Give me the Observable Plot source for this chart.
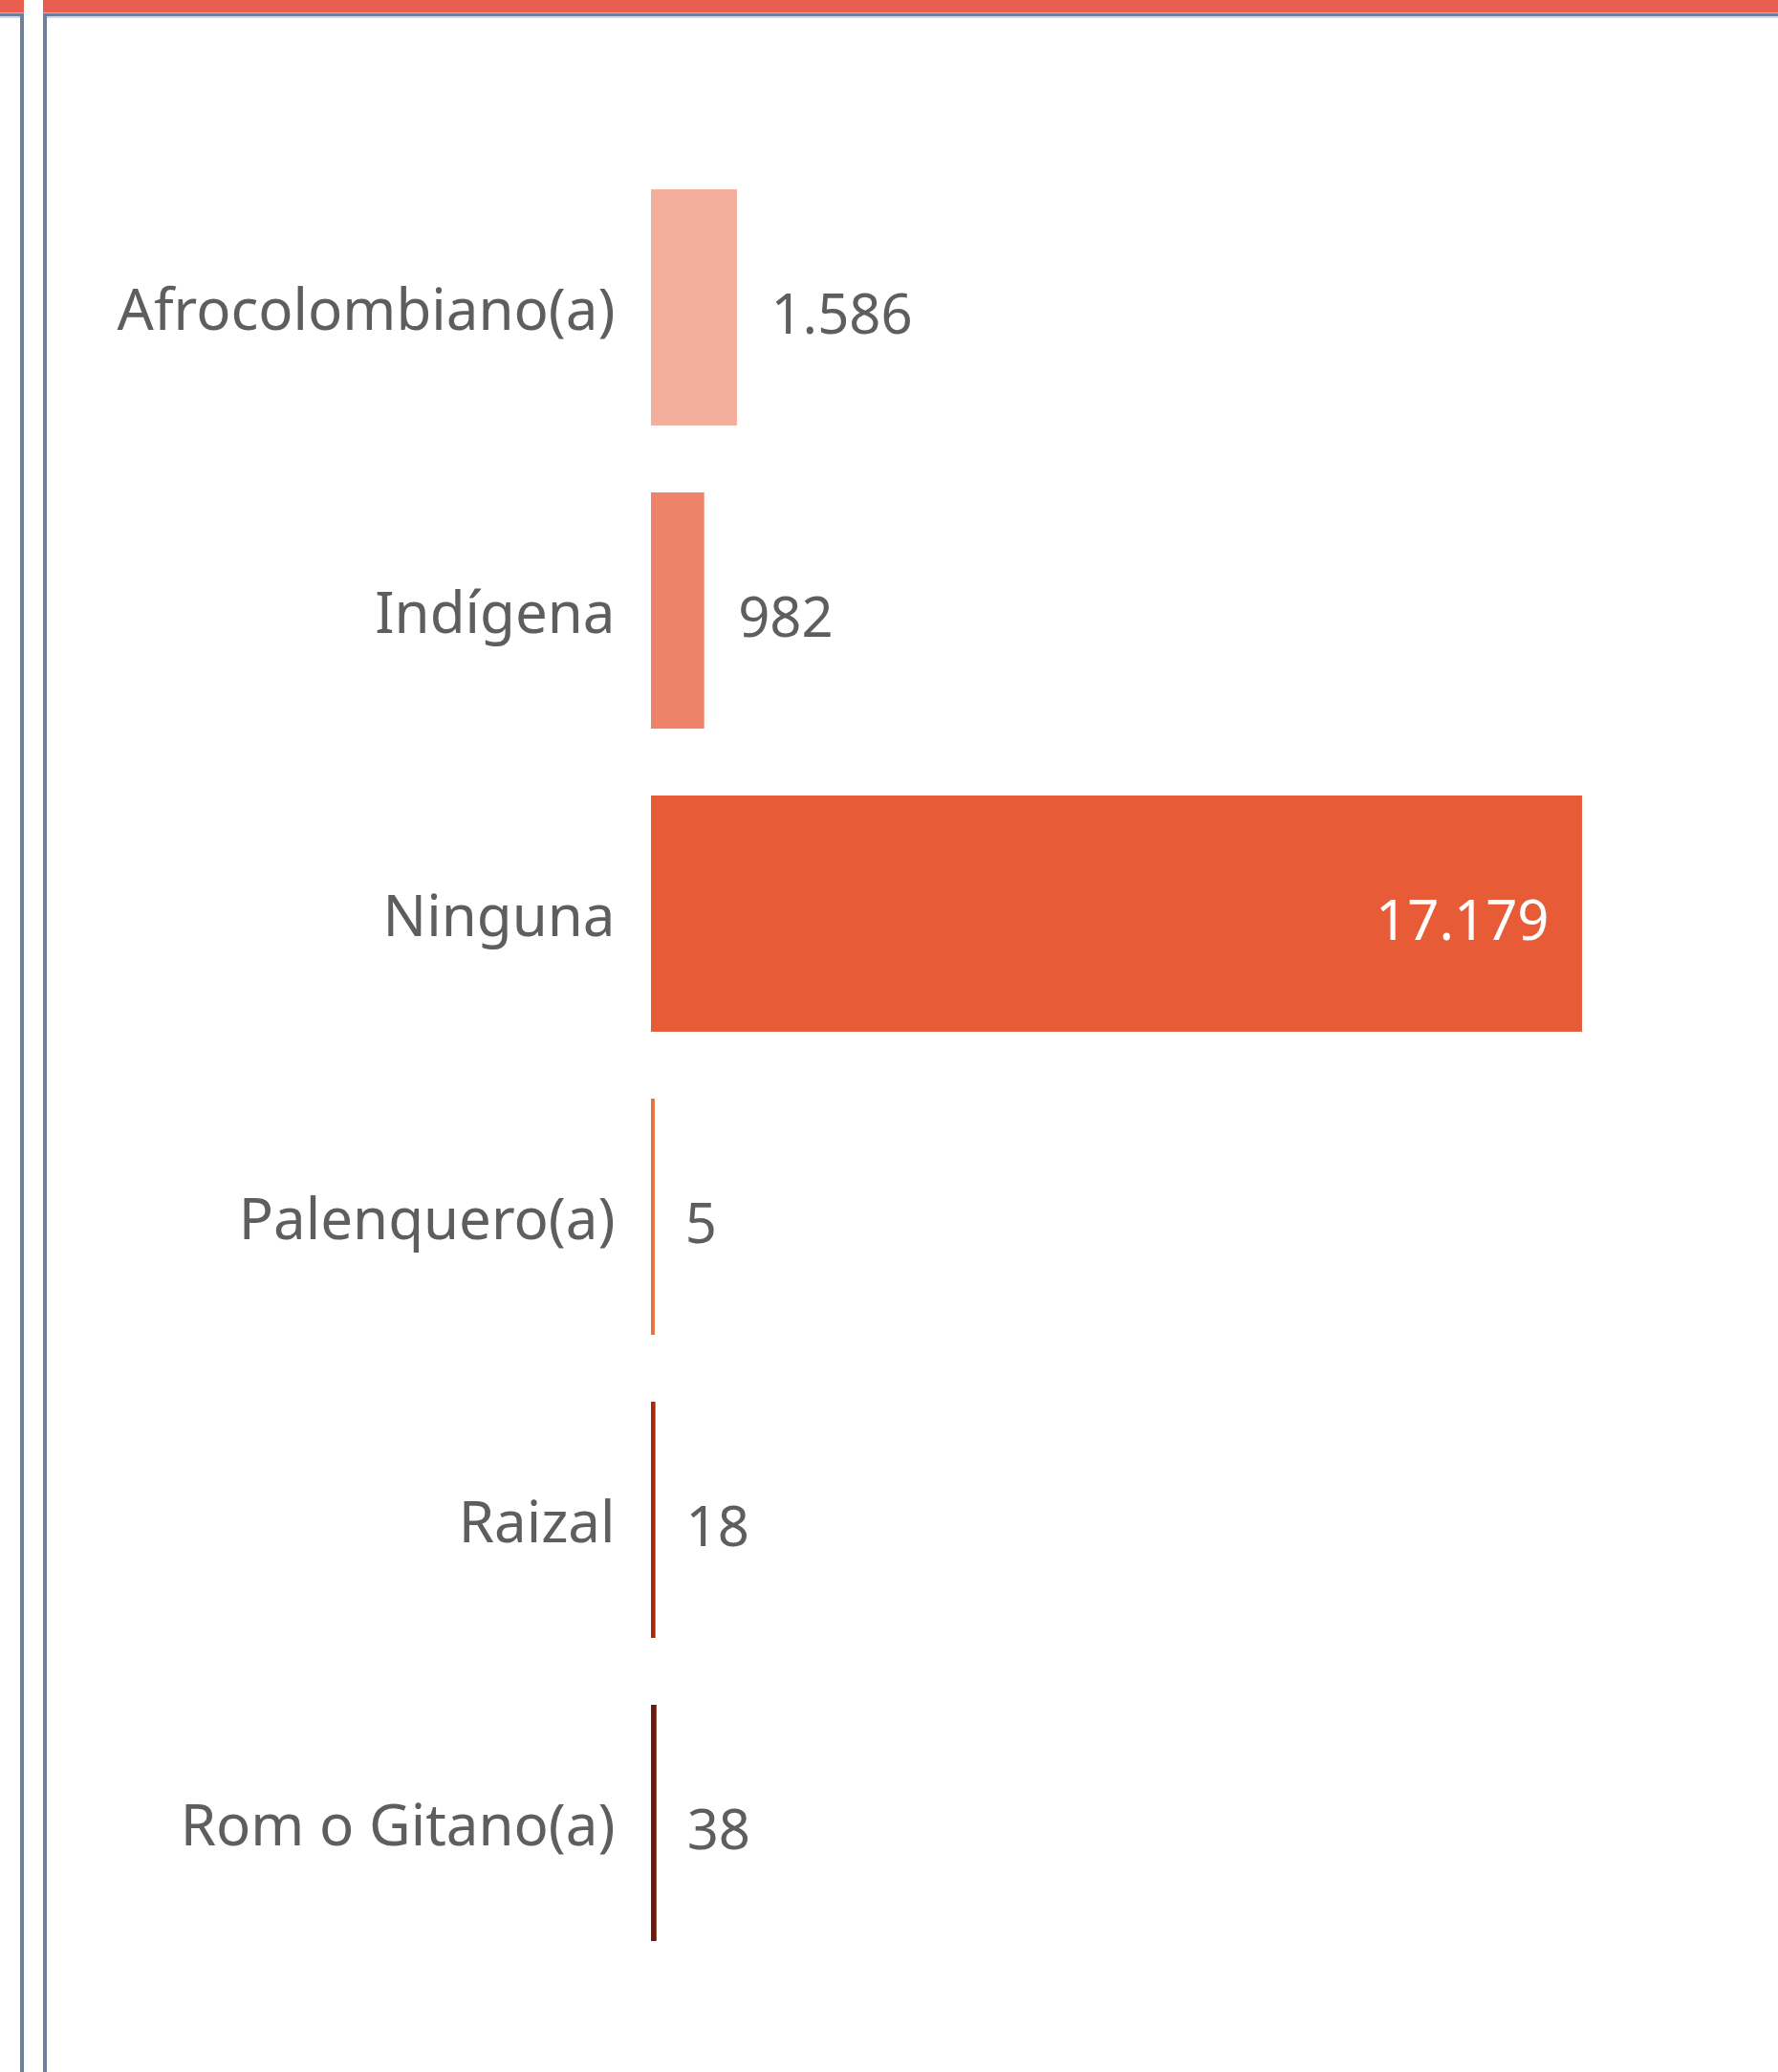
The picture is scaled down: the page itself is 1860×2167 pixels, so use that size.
<!DOCTYPE html>
<html>
<head>
<meta charset="utf-8">
<script src="https://cdn.jsdelivr.net/npm/d3@7"></script>
<script src="https://cdn.jsdelivr.net/npm/@observablehq/plot@0.6"></script>
<style>
  html, body { margin: 0; padding: 0; background: #fff; }
  #page { position: relative; width: 1860px; height: 2167px; overflow: hidden; background: #fff; }
  .red { position: absolute; top: 0; height: 13px; background: #EA5E4F; }
  .pink { position: absolute; top: 13px; height: 1px; background: #F2A89C; }
  .hline { position: absolute; top: 14px; height: 3px; background: #6E7F9B; }
  .hlight { position: absolute; top: 17px; height: 2px; background: #D5DBE5; }
  .vline { position: absolute; top: 14px; bottom: 0; width: 4px; background: #6E7F9B; }
  #chart { position: absolute; left: 0; top: 0; }
</style>
</head>
<body>
<div id="page">
  <div class="red" style="left:0;width:25px"></div>
  <div class="red" style="left:45px;right:0"></div>
  <div class="pink" style="left:0;width:25px"></div>
  <div class="pink" style="left:45px;right:0"></div>
  <div class="hline" style="left:0;width:25px"></div>
  <div class="hline" style="left:45px;right:0"></div>
  <div class="hlight" style="left:0;width:21px"></div>
  <div class="hlight" style="left:49px;right:0"></div>
  <div class="vline" style="left:21px"></div>
  <div class="vline" style="left:45px"></div>
  <div id="chart"></div>
</div>
<script>
const categories = ["Afrocolombiano(a)", "Indígena", "Ninguna", "Palenquero(a)", "Raizal", "Rom o Gitano(a)"];
const values = [1586, 982, 17179, 5, 18, 38];
const colors = ["#F4AE9C", "#EE836A", "#E85B37", "#E8703A", "#A8280D", "#6B1A0B"];

const data = categories.map((c, i) => ({cat: c, value: values[i], color: colors[i]}));
const maxV = d3.max(values);
const fmt = d3.formatLocale({decimal: ",", thousands: ".", grouping: [3], currency: ["$", ""]}).format(",d");
const large = data.filter(d => d.value >= maxV * 0.003);
const small = data.filter(d => d.value < maxV * 0.003);
const outside = data.filter(d => d.value !== maxV);
const inside = data.filter(d => d.value === maxV);

const font = "'Segoe UI', 'Noto Sans', 'Open Sans', sans-serif";

const chart = Plot.plot({
  width: 1860,
  height: 2167,
  marginLeft: 681,
  marginRight: 205,
  marginTop: 126,
  marginBottom: 65,
  style: {fontFamily: font, color: "#605E5C", background: "transparent", overflow: "visible"},
  color: {type: "identity"},
  x: {domain: [0, maxV], axis: null},
  y: {domain: categories, padding: 0.222, label: null},
  marks: [
    Plot.axisY({tickSize: 0, tickPadding: 38, fontSize: 60, fill: "#605E5C", label: null, dy: 4}),
    Plot.barX(large, {x1: 0, x2: "value", y: "cat", fill: d => d.color}),
    Plot.barX(small, {x1: 0, x2: "value", y: "cat", fill: d => d.color, insetRight: -3.6}),
    Plot.text(outside, {x: "value", y: "cat", text: d => fmt(d.value), dx: 35, dy: 8, textAnchor: "start", fontSize: 58, letterSpacing: "-1px", fill: "#605E5C"}),
    Plot.text(inside, {x: "value", y: "cat", text: d => fmt(d.value), dx: -35, dy: 8, textAnchor: "end", fontSize: 58, letterSpacing: "-1px", fill: "#FFFFFF"})
  ]
});
document.getElementById("chart").appendChild(chart);
</script>
</body>
</html>
